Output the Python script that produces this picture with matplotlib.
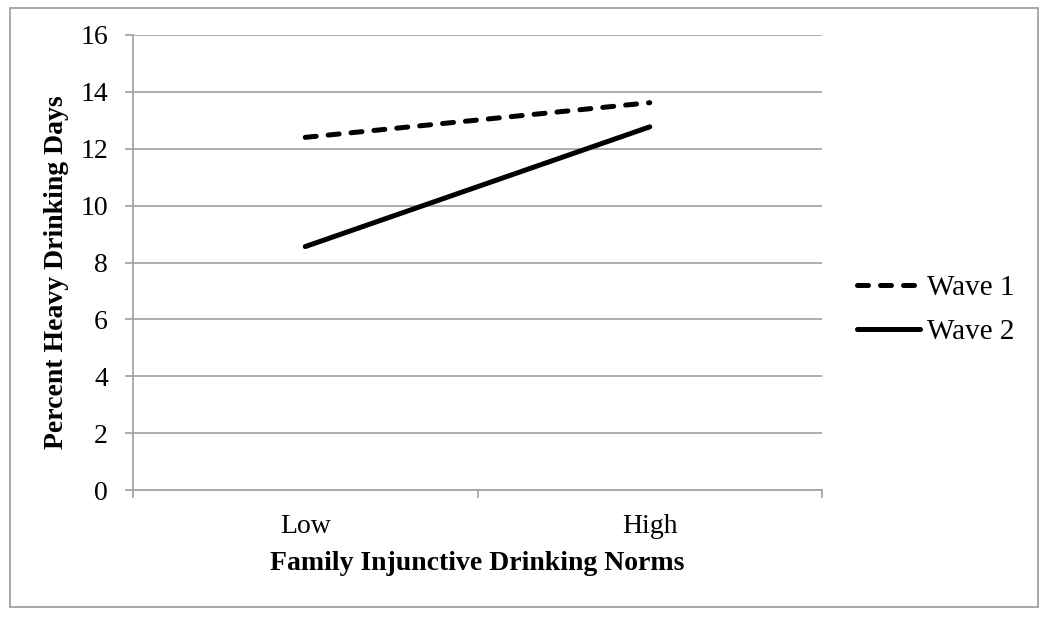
import matplotlib
matplotlib.use("Agg")
import matplotlib.pyplot as plt
from matplotlib.patches import Rectangle

# Data
categories = ["Low", "High"]
wave1 = [12.4, 13.62]
wave2 = [8.56, 12.77]
series_names = ["Wave 1", "Wave 2"]
y_ticks = [0, 2, 4, 6, 8, 10, 12, 14, 16]

GRID = "#a6a6a6"
W, H = 1050, 617
plt.rcParams["font.family"] = ["Liberation Serif", "DejaVu Serif"]

fig = plt.figure(figsize=(W / 100, H / 100), dpi=100)
ax = fig.add_axes([133 / W, 1 - 490 / H, (822 - 133) / W, (490 - 35) / H])

# figure border like the Excel chart area
fig.patches.append(Rectangle((10 / W, 1 - 607 / H), 1028 / W, 599 / H,
                             transform=fig.transFigure, fill=False,
                             edgecolor="#9a9a9a", linewidth=1.2))

x = list(range(len(categories)))
ax.plot(x, wave1, color="black", linewidth=3.6, linestyle=(0, (2.2, 2.4)),
        dash_capstyle="round", solid_capstyle="round", label=series_names[0])
ax.plot(x, wave2, color="black", linewidth=3.6, solid_capstyle="round",
        label=series_names[1])

ax.set_xlim(-0.5, len(categories) - 0.5)
ax.set_ylim(0, 16)
ax.set_yticks(y_ticks)
ax.yaxis.grid(True, color=GRID, linewidth=1.3)
ax.set_axisbelow(True)

# category axis: tick marks between categories, labels centred on them
ax.set_xticks([i - 0.5 for i in range(len(categories) + 1)])
ax.set_xticklabels([])
ax.set_xticks(x, minor=True)
ax.set_xticklabels(categories, minor=True)
ax.tick_params(axis="x", which="major", length=6, width=1.3, color=GRID, direction="out")
ax.tick_params(axis="x", which="minor", length=0, pad=17, labelsize=20)
ax.tick_params(axis="y", length=6, width=1.3, color=GRID, direction="out", labelsize=20, pad=12)

for side in ["top", "right"]:
    ax.spines[side].set_visible(False)
for side in ["left", "bottom"]:
    ax.spines[side].set_color(GRID)
    ax.spines[side].set_linewidth(1.3)

fig.text(477 / W, 1 - 564 / H, "Family Injunctive Drinking Norms", fontsize=20,
         fontweight="bold", ha="center", va="center")
fig.text(57 / W, 1 - 272 / H, "Percent Heavy Drinking Days", fontsize=20,
         fontweight="bold", ha="center", va="center", rotation=90)

fig.legend(loc="center left", bbox_to_anchor=(857 / W, 1 - 310 / H),
           frameon=False, fontsize=21, handlelength=2.17, handletextpad=0.22,
           labelspacing=0.6, borderpad=0, borderaxespad=0)

fig.savefig("out.png", dpi=100, facecolor="white")
